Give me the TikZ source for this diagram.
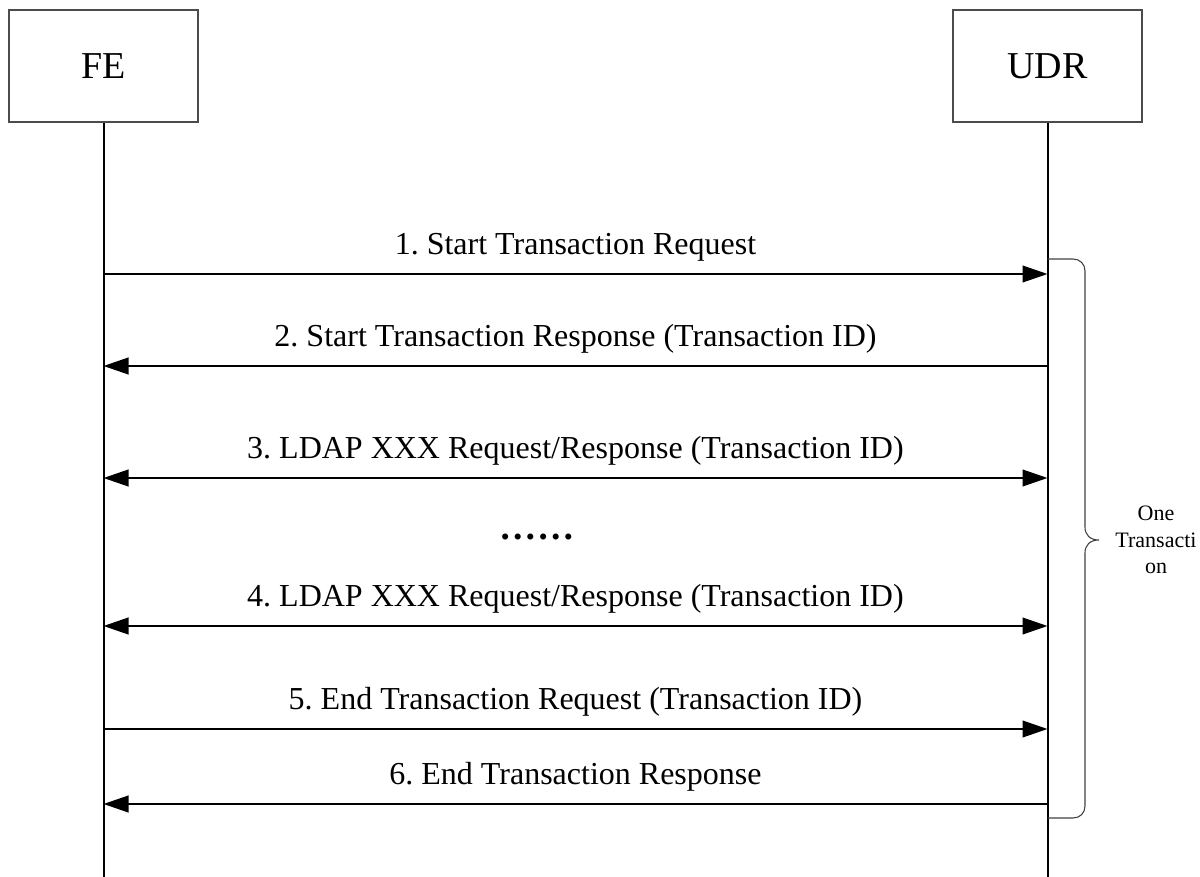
\documentclass[tikz,border=0pt]{standalone}
\usepackage{fontspec}
\setmainfont{Liberation Serif}
\usetikzlibrary{arrows.meta}
\frenchspacing
\begin{document}
\begin{tikzpicture}[x=0.75pt,y=-0.75pt,
  entity/.style={draw=black!70, line width=0.8pt, minimum width=141.75pt, minimum height=84pt, inner sep=0pt, font=\fontsize{28.5}{32}\selectfont},
  life/.style={line width=1.5pt},
  msg/.style={line width=1.5pt, -{Triangle[length=18.75pt,width=12.5pt]}},
  bmsg/.style={line width=1.5pt, {Triangle[length=18.75pt,width=12.5pt]}-},
  bimsg/.style={line width=1.5pt, {Triangle[length=18.75pt,width=12.5pt]}-{Triangle[length=18.75pt,width=12.5pt]}},
  lbl/.style={anchor=base, inner sep=0pt, yshift=14.5pt, font=\fontsize{24}{28}\selectfont},
  bracestyle/.style={draw=black!75, line width=0.8pt}]
\useasboundingbox (0,0) rectangle (1200,877);

\node[entity] (fe) at (103.5,66) {FE};
\node[entity] (udr) at (1047.5,66) {UDR};
\coordinate (feb) at (103.5,877);
\coordinate (udrb) at (1047.5,877);
\draw[life] (fe.south) -- (feb);
\draw[life] (udr.south) -- (udrb);

\coordinate (f1) at (103.5,274); \coordinate (u1) at (1047.5,274);
\coordinate (f2) at (103.5,366); \coordinate (u2) at (1047.5,366);
\coordinate (f3) at (103.5,478); \coordinate (u3) at (1047.5,478);
\coordinate (f4) at (103.5,626); \coordinate (u4) at (1047.5,626);
\coordinate (f5) at (103.5,729); \coordinate (u5) at (1047.5,729);
\coordinate (f6) at (103.5,804); \coordinate (u6) at (1047.5,804);

\draw[msg] (f1) -- (u1) node[lbl, midway] (l1) {1. Start Transaction Request};
\draw[bmsg] (f2) -- (u2) node[lbl, midway] (l2) {2. Start Transaction Response (Transaction ID)};
\draw[bimsg] (f3) -- (u3) node[lbl, midway] (l3) {3. LDAP XXX Request/Response (Transaction ID)};
\draw[bimsg] (f4) -- (u4) node[lbl, midway] (l4) {4. LDAP XXX Request/Response (Transaction ID)};
\draw[msg] (f5) -- (u5) node[lbl, midway] (l5) {5. End Transaction Request (Transaction ID)};
\draw[bmsg] (f6) -- (u6) node[lbl, midway] (l6) {6. End Transaction Response};

\node[font=\bfseries\fontsize{28}{32}\selectfont, inner sep=0pt] (dots) at (537,537) {……};

\coordinate (bt) at (1047.5,259);
\coordinate (bb) at (1047.5,818);
\draw[bracestyle] (bt) -- (1073,259) .. controls (1080,259) and (1085,264) .. (1085,271)
  -- (1085,527) .. controls (1085,535) and (1090,540) .. (1099,540)
  .. controls (1090,540) and (1085,545) .. (1085,553)
  -- (1085,806) .. controls (1085,813) and (1080,818) .. (1073,818) -- (bb);

\node[font=\fontsize{16.5}{20}\selectfont, align=center, inner sep=0pt] (btxt) at (1156,540) {One\\Transacti\\on};
\end{tikzpicture}
\end{document}
